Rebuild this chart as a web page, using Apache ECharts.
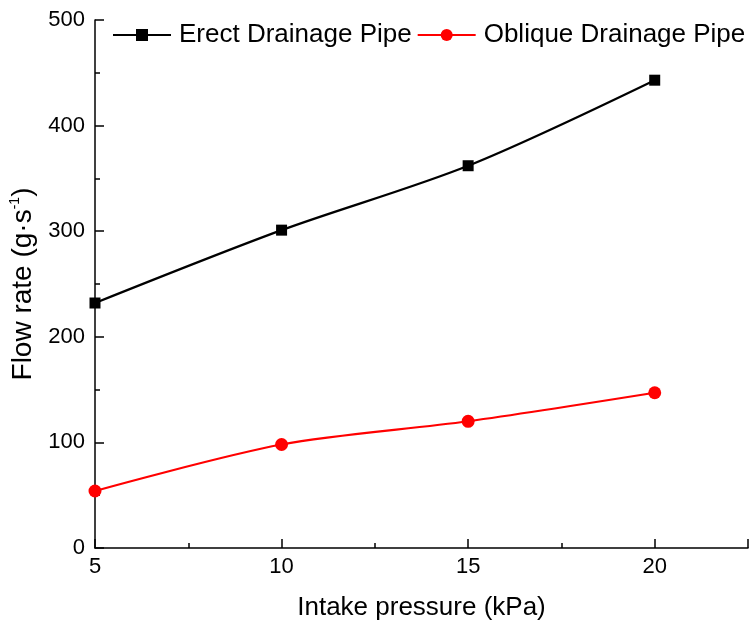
<!DOCTYPE html>
<html><head><meta charset="utf-8">
<script src="https://cdn.jsdelivr.net/npm/echarts@6/dist/echarts.min.js"></script>
<style>html,body{margin:0;padding:0;background:#fff}#c{width:755px;height:631px}</style>
</head><body><div id="c"></div>
<script>
const pressure = [5, 10, 15, 20];
const erect = [232, 301, 362, 443];
const oblique = [54, 98, 120, 147];
const seriesNames = ['Erect Drainage Pipe', 'Oblique Drainage Pipe'];
const font = 'Liberation Sans, Arial, sans-serif';
const chart = echarts.init(document.getElementById('c'));
chart.setOption({
  animation: false,
  backgroundColor: '#fff',
  grid: {left: 95, top: 20, right: 7, bottom: 83, containLabel: false},
  legend: {
    top: 17, left: 107, width: 648, padding: 5, itemWidth: 58, itemHeight: 15, itemGap: 5,
    textStyle: {fontFamily: font, fontSize: 26, color: '#000', padding: [0, 0, 0, 3]},
    data: seriesNames
  },
  xAxis: {
    type: 'value', min: 5, max: 22.5, interval: 5,
    name: 'Intake pressure (kPa)', nameLocation: 'middle', nameGap: 47,
    nameTextStyle: {fontFamily: font, fontSize: 26, color: '#000'},
    axisLine: {lineStyle: {color: '#000', width: 1.5}},
    axisTick: {inside: true, length: 9, lineStyle: {color: '#000', width: 1.5}},
    minorTick: {show: true, splitNumber: 2, length: 5, lineStyle: {color: '#000', width: 1.5}},
    axisLabel: {fontFamily: font, fontSize: 22, color: '#000', margin: 8, showMaxLabel: false},
    splitLine: {show: false}
  },
  yAxis: {
    type: 'value', min: 0, max: 500, interval: 100,
    name: '{a|Flow rate (g·s}{s|-1}{a|)}', nameLocation: 'middle', nameGap: 56,
    nameTextStyle: {fontFamily: font, fontSize: 28, color: '#000',
      rich: {a: {fontFamily: font, fontSize: 28, color: '#000'}, s: {fontFamily: font, fontSize: 14, color: '#000', verticalAlign: 'top', padding: [0,0,16,0]}}},
    axisLine: {show: true, lineStyle: {color: '#000', width: 1.5}},
    axisTick: {show: true, inside: true, length: 9, lineStyle: {color: '#000', width: 1.5}},
    minorTick: {show: true, splitNumber: 2, length: 5, lineStyle: {color: '#000', width: 1.5}},
    axisLabel: {fontFamily: font, fontSize: 22, color: '#000', margin: 10},
    splitLine: {show: false}
  },
  series: [
    {name: seriesNames[0], type: 'line', smooth: 0.3, symbol: 'rect', symbolSize: 11,
     itemStyle: {color: '#000'}, lineStyle: {color: '#000', width: 2.2},
     data: pressure.map((x, i) => [x, erect[i]])},
    {name: seriesNames[1], type: 'line', smooth: 0.3, symbol: 'circle', symbolSize: 13,
     itemStyle: {color: '#ff0000'}, lineStyle: {color: '#ff0000', width: 2.2},
     data: pressure.map((x, i) => [x, oblique[i]])}
  ]
});
</script></body></html>
